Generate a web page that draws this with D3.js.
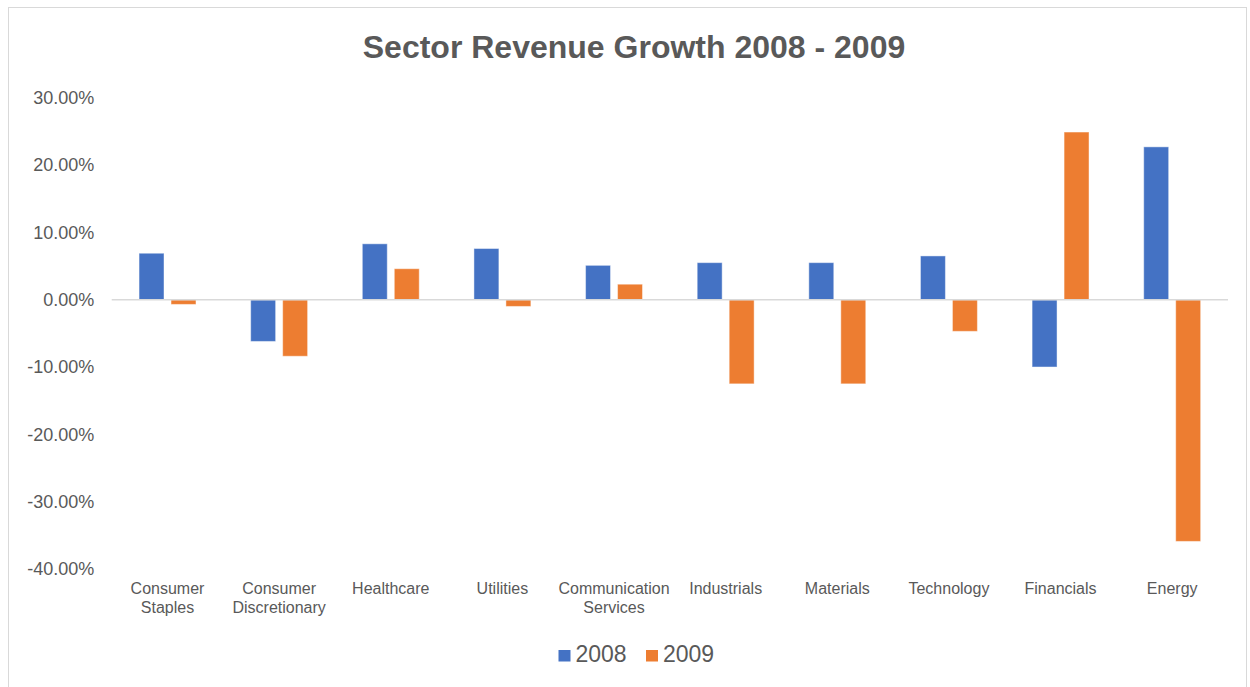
<!DOCTYPE html>
<html>
<head>
<meta charset="utf-8">
<script src="https://cdn.jsdelivr.net/npm/d3@7"></script>
<style>
  html, body { margin: 0; padding: 0; background: #ffffff; }
  svg { display: block; font-family: "Liberation Sans", Arial, sans-serif; }
</style>
</head>
<body>
<svg id="chart" width="1250" height="687"></svg>
<script>
// Sector revenue growth, in percent
const categories = ["Consumer Staples", "Consumer Discretionary", "Healthcare", "Utilities",
  "Communication Services", "Industrials", "Materials", "Technology", "Financials", "Energy"];
const seriesNames = ["2008", "2009"];
const growth2008 = [6.9, -6.2, 8.3, 7.6, 5.1, 5.5, 5.5, 6.5, -10.0, 22.7];
const growth2009 = [-0.7, -8.4, 4.6, -1.0, 2.3, -12.5, -12.5, -4.7, 24.9, -35.9];
const yTicks = [-40, -30, -20, -10, 0, 10, 20, 30];
const seriesColors = ["#4472C4", "#ED7D31"];
const title = "Sector Revenue Growth 2008 - 2009";

const textColor = "#595959";
const gridColor = "#d9d9d9";

const svg = d3.select("#chart");
const W = 1250, H = 687;

const rows = categories.map((c, i) => ({ cat: c, values: [growth2008[i], growth2009[i]] }));

// chart frame
svg.append("rect")
  .attr("x", 8.5).attr("y", 7.5)
  .attr("width", W - 12).attr("height", H)
  .attr("fill", "#ffffff")
  .attr("stroke", gridColor).attr("stroke-width", 1);

// title
svg.append("text")
  .attr("x", 634).attr("y", 58)
  .attr("text-anchor", "middle")
  .attr("fill", textColor)
  .attr("font-size", 32).attr("font-weight", "bold")
  .text(title);

const plot = { left: 111.7, right: 1228, top: 97.7, bottom: 569 };

const x0 = d3.scaleBand()
  .domain(categories)
  .range([plot.left, plot.right])
  .paddingInner(0.49)
  .paddingOuter(0.245);

const x1 = d3.scaleBand()
  .domain(seriesNames)
  .range([0, x0.bandwidth()])
  .paddingInner(0.22);

const y = d3.scaleLinear()
  .domain([d3.min(yTicks), d3.max(yTicks)])
  .range([plot.bottom, plot.top]);

const locale = d3.formatLocale({ decimal: ".", thousands: ",", grouping: [3], currency: ["$", ""], minus: "-" });
const pct = locale.format(".2%");

// value axis labels
const yAxis = d3.axisLeft(y)
  .tickValues(yTicks)
  .tickSize(0)
  .tickPadding(17.5)
  .tickFormat(d => pct(d / 100));

const yg = svg.append("g")
  .attr("transform", `translate(${plot.left},0)`)
  .call(yAxis);
yg.select(".domain").remove();
yg.selectAll("text")
  .attr("fill", textColor)
  .attr("font-size", 18)
  .attr("font-family", "Liberation Sans, Arial, sans-serif");

// bars
const groups = svg.append("g").selectAll("g")
  .data(rows)
  .join("g")
  .attr("transform", d => `translate(${x0(d.cat)},0)`);

groups.selectAll("rect")
  .data(d => d.values.map((v, i) => ({ key: seriesNames[i], v, i })))
  .join("rect")
  .attr("x", d => x1(d.key))
  .attr("width", x1.bandwidth())
  .attr("y", d => y(Math.max(0, d.v)))
  .attr("height", d => Math.abs(y(d.v) - y(0)))
  .attr("fill", d => seriesColors[d.i])
  .attr("stroke", "#ffffff")
  .attr("stroke-opacity", 0.45)
  .attr("stroke-width", 1);

// zero line
svg.append("line")
  .attr("x1", plot.left).attr("x2", plot.right)
  .attr("y1", y(0)).attr("y2", y(0))
  .attr("stroke", gridColor).attr("stroke-width", 1.5);

// category labels, wrapped to the band width
const catG = svg.append("g");
rows.forEach(r => {
  const cx = x0(r.cat) + x0.bandwidth() / 2;
  const t = catG.append("text")
    .attr("x", cx).attr("y", 594)
    .attr("text-anchor", "middle")
    .attr("fill", textColor)
    .attr("font-size", 16);
  const words = r.cat.split(" ");
  const maxW = x0.step() - 4;
  let line = [];
  let tspan = t.append("tspan").attr("x", cx).attr("dy", 0);
  words.forEach(w => {
    line.push(w);
    tspan.text(line.join(" "));
    if (tspan.node().getComputedTextLength() > maxW && line.length > 1) {
      line.pop();
      tspan.text(line.join(" "));
      line = [w];
      tspan = t.append("tspan").attr("x", cx).attr("dy", 18.5).text(w);
    }
  });
});

// legend
const legend = svg.append("g");
const legendItems = [
  { name: seriesNames[0], color: seriesColors[0], x: 558.5 },
  { name: seriesNames[1], color: seriesColors[1], x: 646 }
];
legendItems.forEach(it => {
  legend.append("rect")
    .attr("x", it.x).attr("y", 650)
    .attr("width", 12).attr("height", 11.5)
    .attr("fill", it.color);
  legend.append("text")
    .attr("x", it.x + 17).attr("y", 662)
    .attr("fill", textColor)
    .attr("font-size", 23)
    .text(it.name);
});
</script>
</body>
</html>
